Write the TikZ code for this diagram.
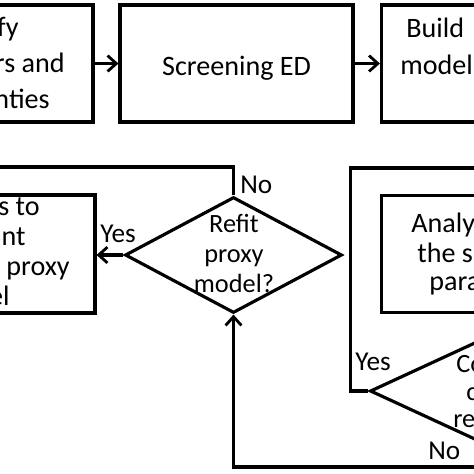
\documentclass[tikz,border=0pt]{standalone}
\usepackage{fontspec}
\setmainfont{Carlito}
\usetikzlibrary{shapes.geometric,arrows.meta}
\tikzset{
  ln/.style={line width=1.8pt},
  arr/.style={ln,-{Straight Barb[length=5pt,width=9pt,line width=1.6pt]}},
  boxnode/.style={draw,ln,rectangle,inner sep=0pt,minimum width=4.66cm,minimum height=2.34cm},
  dia/.style={draw,ln,diamond,inner sep=0pt},
  txt/.style={inner sep=0pt,font=\fontsize{16}{18}\selectfont},
  dtxt/.style={inner sep=0pt,font=\fontsize{15}{17}\selectfont},
  lbl/.style={inner sep=0pt,font=\fontsize{15.5}{17}\selectfont}
}
\begin{document}
\begin{tikzpicture}[x=0.02cm,y=-0.02cm]
\useasboundingbox (0,0) rectangle (474,474);
% top row
\node[boxnode] (b1) at (-23.5,63.5) {};
\node[boxnode] (b2) at (236.5,63.5) {};
\node[boxnode] (b3) at (498,63.5) {};
\node[txt,anchor=base east] (t1a) at (19,36) {fy};
\node[txt,anchor=base east] (t1b) at (65,72) {rs and};
\node[txt,anchor=base east] (t1c) at (50,108) {nties};
\node[txt,anchor=base] (t2) at (236.5,75) {Screening ED};
\node[txt,anchor=base west] (t3a) at (406,37) {Build};
\node[txt,anchor=base west] (t3b) at (400,74) {model};
\draw[arr] (b1) -- (b2);
\draw[arr] (b2) -- (b3);
% left box
\node[draw,ln,rectangle,inner sep=0pt,minimum width=4.66cm,minimum height=2.36cm] (lb) at (-21.5,254) {};
\node[txt,anchor=base east] (l1) at (40,215) {ts to};
\node[txt,anchor=base east] (l2) at (26,245) {ant};
\node[txt,anchor=base east] (l3) at (70,275) {: proxy};
\node[txt,anchor=base east] (l4) at (10,305) {el};
% refit diamond
\node[dia,minimum width=4.34cm,minimum height=2.32cm] (d1) at (233.5,255) {};
\node[dtxt,anchor=base] (r1) at (234,232) {Refit};
\node[dtxt,anchor=base] (r2) at (234,262) {proxy};
\node[dtxt,anchor=base] (r3) at (234,292) {model?};
\coordinate (c1) at (-20,167);
\draw[ln] (d1.north) |- (c1);
\node[lbl,anchor=base west] (no1) at (240,193) {No};
\draw[arr] (d1.west) -- (d1.west -| lb.east);
\node[lbl,anchor=base west] (yes1) at (100,242) {Yes};
% inner box
\node[boxnode] (ib) at (498,254) {};
\node[txt,anchor=base west] (i1) at (411,232) {Analy};
\node[txt,anchor=base west] (i2) at (417,262) {the s};
\node[txt,anchor=base west] (i3) at (429,290) {para};
% second diamond
\node[dia,minimum width=5cm,minimum height=2.32cm] (d2) at (495,391) {};
\node[dtxt,anchor=base west] (k1) at (456,372) {Co};
\node[dtxt,anchor=base west] (k2) at (466,400) {c};
\node[dtxt,anchor=base west] (k3) at (453,427) {re};
\coordinate (c2) at (500,168);
\draw[ln] (d2.west) -- ++(-18,0) |- (c2);
\node[lbl,anchor=base west] (yes2) at (355,370) {Yes};
\coordinate (c3) at (233.5,467);
\draw[arr] (d2.south) |- (c3) -- (d1.south);
\node[lbl,anchor=base west] (no2) at (428,459) {No};
\end{tikzpicture}
\end{document}
